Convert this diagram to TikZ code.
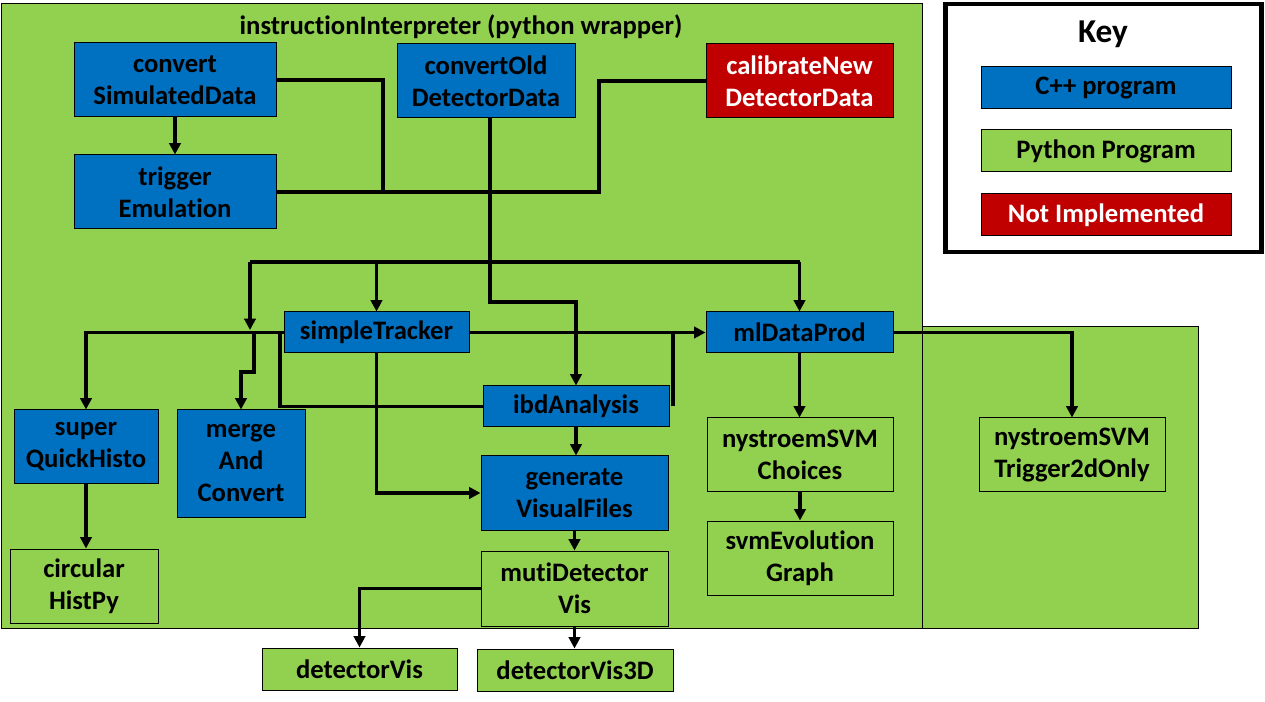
\documentclass[tikz,border=0pt]{standalone}
\usepackage{fontspec}
\setmainfont{Carlito}[RawFeature={-liga}]
\usetikzlibrary{arrows.meta}
\definecolor{pgreen}{HTML}{92D050}
\definecolor{cblue}{HTML}{0070C0}
\definecolor{nred}{HTML}{C00000}
\begin{document}
\begin{tikzpicture}[x=0.75pt,y=-0.75pt,
  box/.style={draw=black, line width=0.75pt, inner sep=0pt, align=center, font=\fontsize{20}{24}\selectfont\bfseries},
  cpp/.style={box, fill=cblue},
  py/.style={box, fill=pgreen},
  ni/.style={box, fill=nred, text=white},
  wh/.style 2 args={minimum width=#1*0.75pt, minimum height=#2*0.75pt},
  conn/.style={line width=2.6pt},
  arr/.style={conn, -{Triangle[length=8.5pt,width=8.5pt]}},
  lbl/.style={inner sep=0pt, font=\fontsize{20}{24}\selectfont\bfseries}
]
\useasboundingbox (0,0) rectangle (1265,702);
\fill[white] (0,0) rectangle (1265,702);
% containers
\draw[fill=pgreen, line width=0.75pt] (1,4) rectangle (922,628);
\draw[fill=pgreen, line width=0.75pt] (922,327) rectangle (1198,628);
\node[lbl] (title) at (461,27) {instructionInterpreter (python wrapper)};
% key
\draw[line width=3.4pt] (945.5,4) rectangle (1261.5,252);
\node[inner sep=0pt, font=\fontsize{25}{30}\selectfont\bfseries] (keyt) at (1103,34) {Key};
\node[cpp, wh={250}{42}] (kcpp) at (1106,88) {C++ program};
\node[py, wh={250}{42}] (kpy) at (1106,151) {Python Program};
\node[ni, wh={250}{42}] (kni) at (1106,215) {Not Implemented};
% nodes
\node[cpp, wh={202}{74}] (convSim) at (175,80) {convert\\SimulatedData};
\node[cpp, wh={202}{74}] (trigEm) at (175,192) {trigger\\Emulation};
\node[cpp, wh={178}{74}] (convOld) at (486,81) {convertOld\\DetectorData};
\node[ni, wh={187}{74}] (calib) at (799.5,81) {calibrateNew\\DetectorData};
\node[cpp, wh={185}{41}] (st) at (376.5,332.5) {simpleTracker};
\node[cpp, wh={187}{41}] (ml) at (799.5,332.5) {mlDataProd};
\node[cpp, wh={186}{41}] (ibd) at (576,406.5) {ibdAnalysis};
\node[cpp, wh={187}{74}] (gen) at (574.5,493) {generate\\VisualFiles};
\node[cpp, wh={144}{74}] (sqh) at (86,447) {super\\QuickHisto};
\node[cpp, wh={128}{107}] (merge) at (241,463.5) {merge\\And\\Convert};
\node[py, wh={148}{74}] (circ) at (84,586) {circular\\HistPy};
\node[py, wh={187}{75}] (muti) at (574.5,588.5) {mutiDetector\\Vis};
\node[py, wh={195}{42}] (dv) at (359.5,669) {detectorVis};
\node[py, wh={196}{42}] (dv3) at (575,670) {detectorVis3D};
\node[py, wh={186}{74}] (ch) at (800,455) {nystroemSVM\\Choices};
\node[py, wh={186}{74}] (se) at (800,558) {svmEvolution\\Graph};
\node[py, wh={186}{74}] (t2d) at (1072,455) {nystroemSVM\\Trigger2dOnly};
% helper coordinates
\coordinate (j1) at (383,192);
\coordinate (j2) at (599,192);
\coordinate (v0) at (490,0);
\coordinate (v1) at (490,302);
\coordinate (bL) at (250,262);
\coordinate (bR) at (799.5,262);
\coordinate (mTip) at (250,330);
\coordinate (m1) at (254,332.5);
\coordinate (m2) at (254,372);
\coordinate (k1) at (280,332.5);
\coordinate (k2) at (673,332.5);
% connectors
\draw[arr] (convSim.south) -- (trigEm.north);
\draw[conn] (convSim.east) -| (j1);
\draw[conn] (trigEm.east) -- (j2) |- (calib.west);
\draw[arr] (convOld.south -| v0) -- (v1) -| (ibd.north);
\draw[conn] (bL) -- (bR);
\draw[arr] (bL) -- (mTip);
\draw[arr] (st.north |- bL) -- (st.north);
\draw[arr] (bR) -- (ml.north);
\draw[arr] (m1) -- (m2) -| (merge.north);
\draw[arr] (st.west) -| (sqh.north);
\draw[conn] (ibd.west) -| (k1);
\draw[arr] (st.east) -- (ml.west);
\draw[conn] (ibd.east -| k2) -- (k2);
\draw[arr] (st.south) |- (gen.west);
\draw[arr] (ibd.south) -- (ibd.south |- gen.north);
\draw[arr] (gen.south) -- (muti.north);
\draw[arr] (muti.west) -| (dv.north);
\draw[arr] (muti.south) -- (muti.south |- dv3.north);
\draw[arr] (ml.south) -- (ml.south |- ch.north);
\draw[arr] (ch.south) -- (se.north);
\draw[arr] (ml.east) -| (t2d.north);
\draw[arr] (sqh.south) -- (sqh.south |- circ.north);
\end{tikzpicture}
\end{document}
